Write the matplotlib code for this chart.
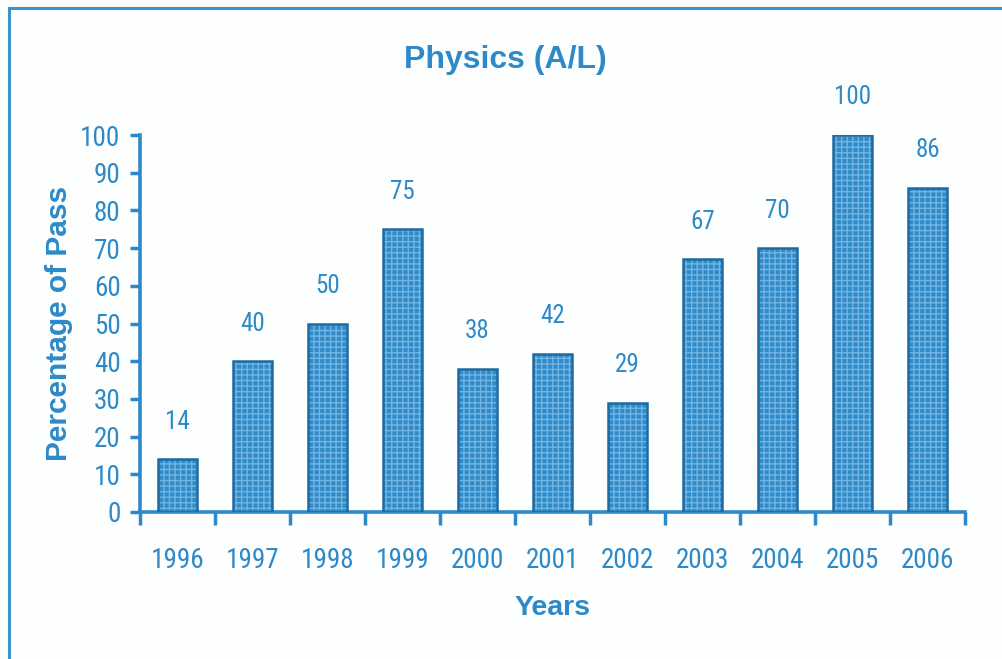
import matplotlib.pyplot as plt
from matplotlib.lines import Line2D

years = ["1996", "1997", "1998", "1999", "2000", "2001", "2002", "2003", "2004", "2005", "2006"]
pass_pct = [14, 40, 50, 75, 38, 42, 29, 67, 70, 100, 86]
yticks = [0, 10, 20, 30, 40, 50, 60, 70, 80, 90, 100]

blue = "#2d89c8"
bar_blue = "#2f8bc9"
edge_blue = "#1d6aa3"
narrow = ["Roboto Condensed", "Liberation Sans Narrow", "Liberation Sans", "DejaVu Sans"]
bold_font = ["Liberation Sans", "DejaVu Sans"]

fig = plt.figure(figsize=(10.02, 6.59), dpi=100, facecolor="#fdfefe")
ax = fig.add_axes([140 / 1002, 1 - 512 / 659, 825 / 1002, 377 / 659])
ax.set_facecolor("none")

x = list(range(len(years)))
# textured fill, then a dark outline on top
ax.bar(x, pass_pct, width=0.53, color=bar_blue, edgecolor="#74b4e0",
       hatch="+++", linewidth=0, zorder=2)
ax.bar(x, pass_pct, width=0.53, color="none", edgecolor=edge_blue,
       linewidth=1.8, zorder=3)

for xi, v in zip(x, pass_pct):
    ax.annotate(str(v), (xi, v), xytext=(0, 27), textcoords="offset points",
                ha="center", va="center", fontsize=18, color=blue,
                family=narrow, clip_on=False)

ax.set_xlim(-0.5, 10.5)
ax.set_ylim(0, 100)
ax.set_yticks(yticks)
ax.set_yticklabels([str(t) for t in yticks], family=narrow, fontsize=19.5, color=blue)

# ticks sit between the bars, labels under each bar
ax.set_xticks([i - 0.5 for i in range(len(years) + 1)])
ax.set_xticklabels([])
ax.set_xticks(x, minor=True)
ax.set_xticklabels(years, minor=True, family=narrow, fontsize=19.5, color=blue)
ax.tick_params(axis="x", which="minor", length=0, pad=25)
ax.tick_params(axis="x", which="major", length=9, width=2.5, color=blue, direction="out")
ax.tick_params(axis="y", length=7, width=2.5, color=blue, direction="out", pad=7)

for s in ["top", "right"]:
    ax.spines[s].set_visible(False)
for s in ["left", "bottom"]:
    ax.spines[s].set_color(blue)
    ax.spines[s].set_linewidth(2.6)

ax.set_ylabel("Percentage of Pass", fontsize=21.5, fontweight="bold", color=blue,
              family=bold_font, labelpad=5)
ax.set_xlabel("Years", fontsize=20.5, fontweight="bold", color=blue,
              family=bold_font, labelpad=15)
fig.text(505 / 1002, 1 - 60 / 659, "Physics (A/L)", ha="center", va="center",
         fontsize=23, fontweight="bold", color=blue, family=bold_font)

# scanned page frame: top and left border lines
fig.add_artist(Line2D([9 / 1002, 1], [1 - 8 / 659, 1 - 8 / 659],
                      transform=fig.transFigure, color="#3d94cc", linewidth=2.2))
fig.add_artist(Line2D([9 / 1002, 9 / 1002], [0, 1 - 8 / 659],
                      transform=fig.transFigure, color="#3d94cc", linewidth=2.2))

fig.savefig("out.png", dpi=100, facecolor=fig.get_facecolor())
